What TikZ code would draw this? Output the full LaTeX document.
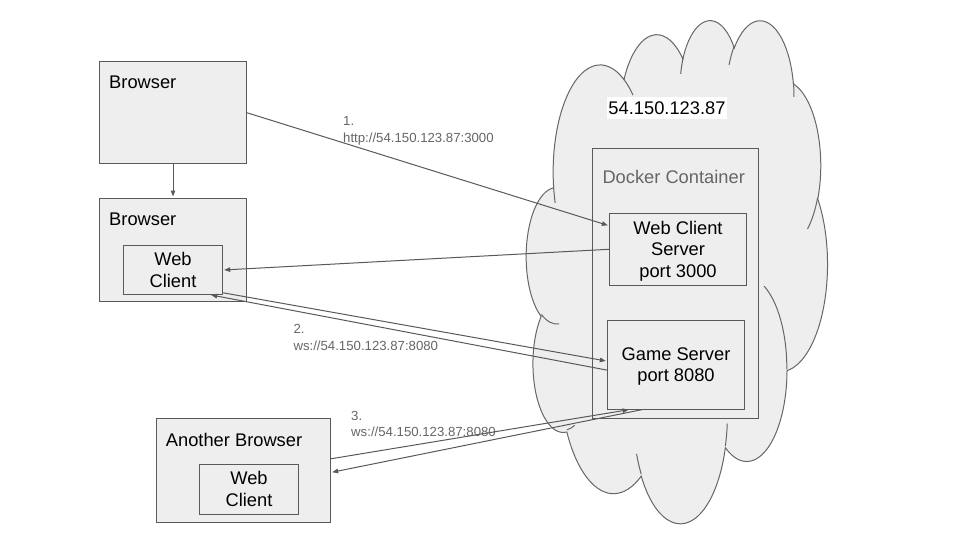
\documentclass[tikz,border=0pt]{standalone}
\usepackage{fontspec}
\setmainfont{Liberation Sans}
\usetikzlibrary{arrows.meta,calc}

\definecolor{boxfill}{HTML}{EEEEEE}
\definecolor{edgegray}{HTML}{595959}
\definecolor{cloudgray}{HTML}{666666}
\definecolor{textgray}{HTML}{666666}

\tikzset{
  box/.style={draw=edgegray, fill=boxfill, line width=1pt, inner sep=0pt,
    font=\fontsize{18.3}{21.8}\selectfont},
  textbox/.style={box, align=center, text depth=0pt},
  lbl/.style={anchor=base west, inner sep=0pt, font=\fontsize{18.3}{21.8}\selectfont},
  urltext/.style={anchor=north west, inner sep=0pt, align=left, text=textgray,
    font=\fontsize{13.2}{16.4}\selectfont},
  conn/.style={draw=edgegray, line width=1pt, shorten >=1pt,
    -{Triangle[length=6pt,width=4.5pt]}},
  cloudline/.style={draw=cloudgray, line width=1pt},
  % arc given by radii, start angle and sweep as a drawing program stores them
  ooarc/.style n args={4}{x radius=#1, y radius=#2,
    start angle={atan2(#1*sin(#3),#2*cos(#3))},
    delta angle={mod(atan2(#1*sin(#3+#4),#2*cos(#3+#4))-atan2(#1*sin(#3),#2*cos(#3))+720,360)}}
}

\begin{document}
\begin{tikzpicture}[x=1pt, y=-1pt]
  \useasboundingbox (0,0) rectangle (960,540);

  % Cloud
  \begin{scope}[shift={(526.4,19)}, x=0.69676pt, y=-1.16435pt]
    \path[cloudline, fill=boxfill] (39.00,143.70)
      \foreach \rx/\ry/\sa/\sw in {67.53/91.90/-190.48748/123.78053,
        53.33/72.67/-144.10238/89.94523, 43.65/59.45/-145.80792/99.72302,
        48.57/65.95/-130.98607/117.24173, 53.33/72.73/-78.70888/109.02692,
        67.75/92.20/-46.26725/130.26900, 57.85/78.67/0.62502/114.03333,
        67.52/92.15/22.45160/115.17255, 77.20/105.43/66.24263/75.71102,
        43.60/59.18/-274.94208/146.73557, 43.45/59.45/-246.82850/152.51885}
      { arc[ooarc={\rx}{\ry}{\sa}{\sw}] } -- cycle;
    \foreach \px/\py/\rx/\ry/\sa/\sw in {46.93/261.77/43.45/59.45/86.74200/26.42950,
        69.28/348.99/43.60/59.18/73.61047/11.44747,
        164.78/390.90/67.52/92.15/137.62415/14.08110,
        288.27/347.51/67.52/92.15/6.45327/15.99835,
        341.29/229.54/57.85/78.67/-70.29235/70.91737,
        417.98/153.54/53.33/72.73/30.31803/27.75150,
        383.24/54.26/48.57/65.95/-13.74433/14.85890,
        290.78/39.52/48.57/65.95/-149.18145/18.19537,
        221.41/47.20/43.65/59.45/-163.49427/17.68635,
        140.00/51.92/67.53/91.90/-66.70695/12.31935,
        41.27/157.89/67.53/91.90/157.65435/11.85817}
    {
      \draw[cloudline] (\px,\py) arc[ooarc={\rx}{\ry}{\sa}{\sw}];
    }
  \end{scope}

  % Server side
  \node[fill=white, inner sep=0pt, minimum width=119.4pt, minimum height=21.4pt,
    font=\fontsize{18.3}{21.8}\selectfont] (ip) at (667,108) {54.150.123.87};
  \node[box, minimum width=166.4pt, minimum height=270pt] (dc) at (675.5,283.3) {};
  \node[anchor=center, inner sep=0pt, text=textgray,
    font=\fontsize{18.3}{21.8}\selectfont] (dclbl) at (673.7,177) {Docker Container};
  \node[textbox, minimum width=137.4pt, minimum height=72pt] (wcs)
    at (678,249.3) {Web Client\\Server\\port 3000};
  \node[textbox, minimum width=137.4pt, minimum height=88.7pt] (gs)
    at (676,364.7) {Game Server\\port 8080};

  % Browsers
  \node[box, minimum width=147pt, minimum height=102.5pt] (b1) at (173,112.75) {};
  \node[lbl] (b1lbl) at (109,89) {Browser};
  \node[box, minimum width=147pt, minimum height=103pt] (b2) at (173,249.5) {};
  \node[lbl] (b2lbl) at (109,225.7) {Browser};
  \node[textbox, minimum width=99.4pt, minimum height=48.6pt] (wc1)
    at (173,270) {Web\\Client};
  \node[box, minimum width=174pt, minimum height=104pt] (ab) at (243.7,470.3) {};
  \node[lbl] (ablbl) at (165.7,446) {Another Browser};
  \node[textbox, minimum width=99.4pt, minimum height=50.3pt] (wc2)
    at (249,489.2) {Web\\Client};

  % Connections
  \draw[conn] (b1.south) -- (b2.north);
  \draw[conn] (b1.east) -- ($(wcs.north west)!0.176!(wcs.south west)$);
  \draw[conn] (wcs.west) -- (wc1.east);
  \draw[conn] ($(wc1.north east)!0.96!(wc1.south east)$)
    -- ($(gs.north west)!0.46!(gs.south west)$);
  \draw[conn] ($(gs.north west)!0.56!(gs.south west)$)
    -- ($(wc1.south west)!0.87!(wc1.south east)$);
  \draw[conn] ($(ab.north east)!0.39!(ab.south east)$)
    -- ($(gs.south west)!0.165!(gs.south east)$);
  \draw[conn] ($(gs.south west)!0.258!(gs.south east)$)
    -- ($(ab.north east)!0.52!(ab.south east)$);

  % Labels
  \node[urltext] (url1) at (343,116.7) {1.\\http://54.150.123.87:3000};
  \node[urltext] (url2) at (293.3,324.3) {2.\\ws://54.150.123.87:8080};
  \node[urltext] (url3) at (351,410.7) {3.\\ws://54.150.123.87:8080};
\end{tikzpicture}
\end{document}
